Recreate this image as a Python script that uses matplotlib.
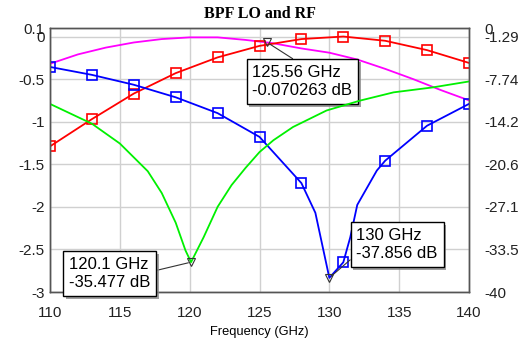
import numpy as np
import matplotlib
matplotlib.use('Agg')
import matplotlib.pyplot as plt
import matplotlib.patheffects as pe

plt.rcParams['font.family'] = ['Liberation Sans', 'DejaVu Sans']

# --- data ---
# left axis (insertion loss, dB)
mag_f = [110, 112, 114, 116, 118, 120, 122, 124, 125.56, 126, 128, 130, 132, 134, 136, 138, 140]
mag_db = [-0.32, -0.21, -0.13, -0.07, -0.03, -0.01, -0.01, -0.04, -0.070263, -0.08, -0.14, -0.19,
          -0.27, -0.38, -0.50, -0.63, -0.75]

red_f = [110, 113, 116, 119, 122, 125, 128, 131, 134, 137, 140]
red_db = [-1.29, -0.97, -0.67, -0.43, -0.245, -0.11, -0.03, 0.0, -0.05, -0.16, -0.31]

# right axis (return loss, dB)
blue_f = [110, 113, 116, 119, 122, 125, 128, 129, 130, 131, 131.5, 132, 133.4, 134, 137, 140]
blue_db = [-5.9, -7.1, -8.6, -10.5, -12.9, -16.5, -23.5, -28.0, -37.856, -35.5, -31.7, -26.8,
           -21.6, -20.1, -14.8, -11.5]

green_f = [110, 111, 113, 115, 117, 118, 119, 119.7, 120.1, 121, 122, 123, 124, 125, 126,
           127.4, 129.8, 132.2, 134.6, 137.4, 140]
green_db = [-11.5, -12.5, -14.5, -17.5, -21.7, -25.0, -29.5, -33.7, -35.477, -31.7, -27.1, -23.8,
            -21.2, -18.8, -17.0, -15.0, -12.5, -11.0, -9.75, -9.0, -8.1]

left_ticks = [0.1, 0, -0.5, -1, -1.5, -2, -2.5, -3]
left_labels = ['0.1', '0', '-0.5', '-1', '-1.5', '-2', '-2.5', '-3']
right_labels = ['0', '-1.29', '-7.74', '-14.2', '-20.6', '-27.1', '-33.5', '-40']
x_ticks = [110, 115, 120, 125, 130, 135, 140]

fig = plt.figure(figsize=(5.23, 3.41), dpi=100)
ax = fig.add_axes([50 / 523, 49 / 341, 419 / 523, 264 / 341])
ax2 = ax.twinx()

ax.set_xlim(110, 140)
ax.set_ylim(-3, 0.1)
ax2.set_ylim(-40, 0)

ax.set_xticks(x_ticks)
ax.set_yticks(left_ticks)
ax.set_yticklabels(left_labels)
# right ticks line up with the left grid
right_ticks = -40 + (np.array(left_ticks) + 3) * 40 / 3.1
ax2.set_yticks(right_ticks)
ax2.set_yticklabels(right_labels)

ax.grid(True, color='#d0d0d0', linewidth=1.0)
ax.set_axisbelow(True)
for a in (ax, ax2):
    a.tick_params(length=0, labelsize=11, colors='#222222')
    for s in a.spines.values():
        s.set_color('#555555')
        s.set_linewidth(1.0)
ax.tick_params(axis='x', pad=10)
ax.tick_params(axis='y', pad=4)
ax2.tick_params(axis='y', pad=11)

lw = 1.3
ax.plot(mag_f, mag_db, color='#ff00ff', lw=lw)
ax.plot(red_f, red_db, color='#ff0000', lw=lw, marker='s', ms=6.5, mfc='none', mew=1.2)
blue_marks = [i for i, f in enumerate(blue_f) if float(f).is_integer() and (f - 110) % 3 == 0]
ax2.plot(blue_f, blue_db, color='#0000ff', lw=lw, marker='s', ms=6.5, mfc='none', mew=1.2,
         markevery=blue_marks)
ax2.plot(green_f, green_db, color='#00f000', lw=lw)

ax.set_title('BPF LO and RF', family='Liberation Serif', fontweight='bold', fontsize=11.5, pad=7)
ax.set_xlabel('Frequency (GHz)', fontsize=9.3, labelpad=4.5)


def marker_box(axis, x, y, text, box_xy, line_xy):
    axis.plot([x], [y], marker='v', ms=6, mfc='none', mec='#333333', mew=0.8, zorder=6)
    axis.annotate(text, xy=(x, y), xycoords='data', xytext=box_xy, textcoords='figure pixels',
                  fontsize=12, ha='left', va='bottom', linespacing=1.25, zorder=7,
                  bbox=dict(boxstyle='square,pad=0.35', fc='white', ec='black', lw=1.0,
                            path_effects=[pe.withSimplePatchShadow(offset=(2, -2),
                                                                   shadow_rgbFace='#888888',
                                                                   alpha=0.8)]),
                  arrowprops=dict(arrowstyle='-', color='#333333', lw=0.8,
                                  relpos=line_xy, shrinkA=0, shrinkB=2))


marker_box(ax, 125.56, -0.070263, '125.56 GHz\n-0.070263 dB', (252.5, 243), (0.5, 1.0))
marker_box(ax2, 120.1, -35.477, '120.1 GHz\n-35.477 dB', (69, 51), (1.0, 0.55))
marker_box(ax2, 130, -37.856, '130 GHz\n-37.856 dB', (356.5, 80), (0.0, 0.2))

fig.savefig('out.png', dpi=100)
